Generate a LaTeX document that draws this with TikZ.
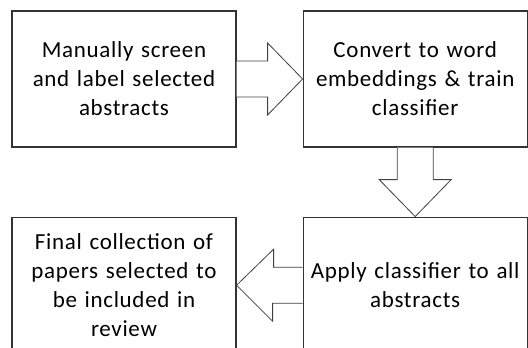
\documentclass[tikz,border=0pt]{standalone}
\usepackage{fontspec}
\setmainfont[LetterSpace=3]{Carlito}
\usetikzlibrary{calc,positioning}

\begin{document}
\begin{tikzpicture}[x=1pt,y=1pt,
                    stepbox/.style={draw=black!80,line width=1.2pt,minimum width=224pt,minimum height=136pt,
                                    text width=220pt,align=center,inner sep=0pt,font=\fontsize{23}{29}\selectfont},
                    blockarrow/.style={draw=black!75,fill=white,line width=0.8pt,line join=miter}]
 \useasboundingbox (0,0) rectangle (528,-348);
 \clip (0,0) rectangle (528,-348);

 \node[stepbox] (Manual) at (124,-79) {Manually screen\\and label selected\\abstracts};
 \node[stepbox] (Convert) [right=66pt of Manual] {Convert to word\\embeddings \& train\\classifier};
 \node[stepbox] (Apply) [below=69pt of Convert] {Apply classifier to all\\abstracts};
 \node[stepbox] (Final) [left=66pt of Apply] {Final collection of\\papers selected to\\be included in\\review};

 % block arrows between the steps
 \draw[blockarrow] ($(Manual.east)+(0,18)$) -- ++(31,0) -- ++(0,18) -- (Convert.west)
                   -- ++(-35,-36) -- ++(0,18) -- ($(Manual.east)+(0,-18)$);
 \draw[blockarrow] ($(Convert.south)+(-18,0)$) -- ++(0,-32) -- ++(-18,0) -- (Apply.north)
                   -- ++(36,37) -- ++(-18,0) -- ($(Convert.south)+(18,0)$);
 \draw[blockarrow] ($(Apply.west)+(0,18)$) -- ++(-29,0) -- ++(0,18) -- (Final.east)
                   -- ++(36,-36) -- ++(0,18) -- ($(Apply.west)+(0,-18)$);
\end{tikzpicture}
\end{document}
